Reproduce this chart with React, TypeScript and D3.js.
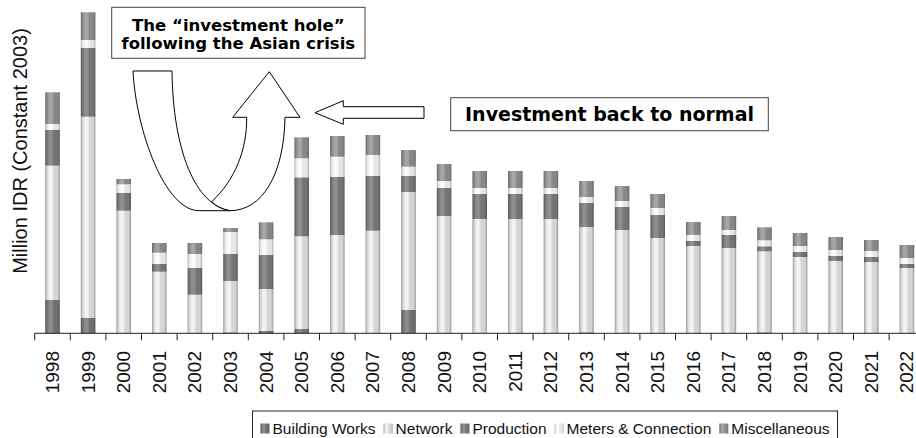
import React, { useEffect, useRef } from 'react';
import * as d3 from 'd3';

// categories
const years = [
  '1998', '1999', '2000', '2001', '2002', '2003', '2004', '2005', '2006', '2007', '2008', '2009',
  '2010', '2011', '2012', '2013', '2014', '2015', '2016', '2017', '2018', '2019', '2020', '2021', '2022',
];

// series values (Million IDR)
const buildingWorks = [333, 156, 0, 0, 0, 10, 23, 43, 0, 0, 233, 0, 0, 0, 0, 10, 0, 0, 0, 0, 10, 0, 0, 0, 0];
const network = [1343, 2010, 1226, 616, 386, 513, 420, 927, 983, 1026, 1180, 1173, 1143, 1143, 1143, 1053, 1033, 953, 873, 853, 810, 763, 723, 713, 653];
const production = [357, 690, 180, 77, 267, 273, 340, 590, 583, 547, 160, 280, 250, 250, 250, 240, 230, 230, 50, 130, 50, 50, 50, 50, 40];
const meters = [60, 77, 84, 113, 140, 217, 157, 190, 200, 210, 93, 70, 60, 60, 60, 60, 60, 70, 60, 50, 60, 60, 60, 60, 60];
const miscellaneous = [317, 277, 53, 97, 110, 40, 170, 210, 207, 200, 167, 170, 170, 170, 170, 160, 150, 140, 130, 140, 130, 130, 130, 110, 130];

const seriesNames = ['Building Works', 'Network', 'Production', 'Meters & Connection', 'Miscellaneous'];
const seriesValues = [buildingWorks, network, production, meters, miscellaneous];

// cylinder shading for each series
const shades = [
  { edge: '#525252', mid: '#707070', hi: '#8c8c8c' },
  { edge: '#969696', mid: '#d4d4d4', hi: '#f3f3f3' },
  { edge: '#565656', mid: '#747474', hi: '#8f8f8f' },
  { edge: '#b0b0b0', mid: '#e6e6e6', hi: '#fcfcfc' },
  { edge: '#686868', mid: '#878787', hi: '#a6a6a6' },
];

const yLabel = 'Million IDR (Constant 2003)';

const App = () => {
  const svgRef = useRef<SVGSVGElement>(null);

  useEffect(() => {
    const svg = d3.select(svgRef.current);
    svg.selectAll('*').remove();

    const baseY = 333.3;
    const x = d3.scaleBand().domain(years).range([34.7, 924.7]).paddingInner(0.59).paddingOuter(0.295);
    const y = d3.scaleLinear().domain([0, 3300]).range([baseY, 3.3]);

    // gradients
    const defs = svg.append('defs');
    shades.forEach((s, i) => {
      const g = defs.append('linearGradient').attr('id', `cyl${i}`).attr('x1', 0).attr('x2', 1).attr('y1', 0).attr('y2', 0);
      const stops: [number, string][] = [
        [0, s.edge], [0.12, s.mid], [0.3, s.hi], [0.45, s.hi], [0.62, s.mid], [0.85, s.mid], [1, s.edge],
      ];
      stops.forEach(([o, c]) => g.append('stop').attr('offset', o).attr('stop-color', c));
    });

    // stacked data
    const rows = years.map((yr, i) => {
      const r: any = { year: yr };
      seriesNames.forEach((n, k) => (r[n] = seriesValues[k][i]));
      return r;
    });
    const stacked = d3.stack<any>().keys(seriesNames)(rows);

    svg.append('g')
      .selectAll('g')
      .data(stacked)
      .enter()
      .append('g')
      .attr('fill', (_d, i) => `url(#cyl${i})`)
      .selectAll('rect')
      .data(d => d.filter(p => p[1] - p[0] > 0))
      .enter()
      .append('rect')
      .attr('x', d => x(d.data.year)!)
      .attr('width', x.bandwidth())
      .attr('y', d => y(d[1]))
      .attr('height', d => y(d[0]) - y(d[1]));

    // x axis
    const step = x.step();
    const x0 = x.range()[0];
    const axis = svg.append('g');
    axis.append('line')
      .attr('x1', x0).attr('x2', x0 + step * years.length)
      .attr('y1', baseY).attr('y2', baseY)
      .attr('stroke', '#222').attr('stroke-width', 1);
    axis.selectAll('.tick')
      .data(d3.range(years.length + 1))
      .enter()
      .append('line')
      .attr('x1', i => x0 + i * step).attr('x2', i => x0 + i * step)
      .attr('y1', baseY).attr('y2', baseY + 7)
      .attr('stroke', '#222');
    axis.selectAll('.lbl')
      .data(years)
      .enter()
      .append('text')
      .attr('transform', d => `translate(${x(d)! + x.bandwidth() / 2},351) rotate(-90)`)
      .attr('text-anchor', 'end')
      .attr('dominant-baseline', 'central')
      .attr('font-family', 'Liberation Sans, Arial, sans-serif')
      .attr('font-size', 19)
      .attr('fill', '#111')
      .text(d => d);

    // y label
    svg.append('text')
      .attr('transform', 'translate(20,151) rotate(-90)')
      .attr('text-anchor', 'middle')
      .attr('dominant-baseline', 'central')
      .attr('font-family', 'Liberation Sans, Arial, sans-serif')
      .attr('font-size', 20)
      .attr('fill', '#111')
      .text(yLabel);

    // legend
    const leg = svg.append('g');
    const box = leg.append('rect').attr('fill', '#fff').attr('stroke', '#222');
    let cx = 0;
    const items: any[] = [];
    seriesNames.forEach((n, i) => {
      const sw = leg.append('rect').attr('width', 9).attr('height', 10).attr('y', 423.5).attr('fill', `url(#cyl${i})`);
      const t = leg.append('text')
        .attr('y', 434)
        .attr('font-family', 'Liberation Sans, Arial, sans-serif')
        .attr('font-size', 15.5)
        .attr('fill', '#111')
        .text(n);
      const w = (t.node() as SVGTextElement).getComputedTextLength();
      items.push({ sw, t, start: cx });
      cx += 9 + 3 + w + 8;
    });
    const total = cx - 8;
    const left = 545 - total / 2;
    items.forEach(it => {
      it.sw.attr('x', left + it.start);
      it.t.attr('x', left + it.start + 12);
    });
    box.attr('x', left - 8).attr('y', 411).attr('width', total + 16).attr('height', 40);

    // annotation: investment hole
    const ann = svg.append('g').attr('font-family', 'DejaVu Sans, Verdana, sans-serif').attr('font-weight', 'bold');
    ann.append('rect').attr('x', 111.7).attr('y', 7.3).attr('width', 253.3).attr('height', 51)
      .attr('fill', '#fff').attr('stroke', '#444');
    ann.append('text').attr('x', 238.3).attr('y', 31).attr('text-anchor', 'middle').attr('font-size', 16.5)
      .text('The \u201cinvestment hole\u201d');
    ann.append('text').attr('x', 238.3).attr('y', 49).attr('text-anchor', 'middle').attr('font-size', 16.5)
      .text('following the Asian crisis');

    // U-turn arrow
    const arr = svg.append('g').attr('fill', '#fff').attr('stroke', '#000').attr('stroke-width', 1);
    arr.append('path').attr('d',
      'M133,71 L172,71 C173,150 195,205 230,210.7 L200,210.7 C165,212 136,130 133,71 Z');
    arr.append('path').attr('d',
      'M211.7,201.7 C235,180 247,150 246.7,117.3 L232.7,117.3 L269.3,71.7 L300,117.3 L285,117.3 ' +
      'C284,175 262,210.7 230,210.7 C222,209 216,206 211.7,201.7 Z');

    // annotation: back to normal
    ann.append('rect').attr('x', 450.7).attr('y', 97.7).attr('width', 317.6).attr('height', 33)
      .attr('fill', '#fff').attr('stroke', '#444');
    ann.append('text').attr('x', 609.5).attr('y', 121).attr('text-anchor', 'middle').attr('font-size', 19)
      .text('Investment back to normal');

    svg.append('path')
      .attr('d', 'M315,112.7 L343.3,100.7 L343.3,106.7 L424,106.7 L424,118.3 L343.3,118.3 L343.3,124.3 Z')
      .attr('fill', '#fff').attr('stroke', '#000');
  }, []);

  return (
    <svg
      ref={svgRef}
      width={916}
      height={438}
      style={{ position: 'absolute', left: 0, top: 0, background: '#fff' }}
    />
  );
};

export default App;
